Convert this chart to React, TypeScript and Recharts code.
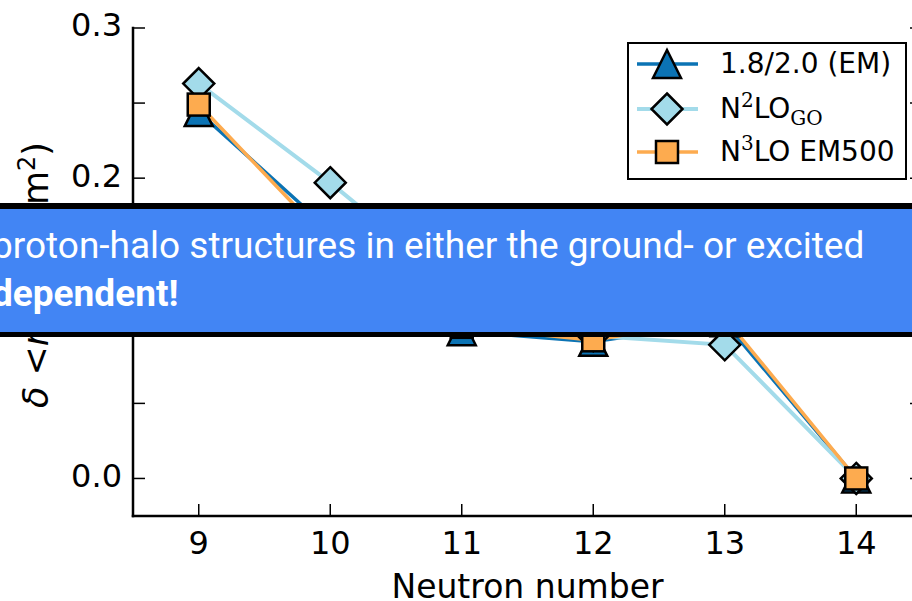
import React from 'react';
import { LineChart, Line, XAxis, YAxis, Legend } from 'recharts';

const neutronNumbers = [9, 10, 11, 12, 13, 14];
const em1820 = [0.244, 0.165, 0.098, 0.091, 0.104, 0.0];
const n2loGo = [0.263, 0.197, 0.125, 0.095, 0.089, 0.0];
const n3loEm500 = [0.249, 0.157, 0.101, 0.092, 0.107, 0.0];

const xTicks = [9, 10, 11, 12, 13, 14];
const yTicks = [0, 0.05, 0.1, 0.15, 0.2, 0.25, 0.3];
const yLabelTicks = [0, 0.1, 0.2, 0.3];

const bannerLine1 = 'proton-halo structures in either the ground- or excited';
const bannerLine2 = 'dependent!';

const rows = neutronNumbers.map((n, i) => ({ n, em: em1820[i], go: n2loGo[i], em500: n3loEm500[i] }));

type Shape = 'triangle' | 'diamond' | 'square';

const SERIES: { key: string; color: string; shape: Shape; width: number }[] = [
  { key: 'em', color: '#0b73b4', shape: 'triangle', width: 3.5 },
  { key: 'go', color: '#a3dbea', shape: 'diamond', width: 4 },
  { key: 'em500', color: '#fdab4f', shape: 'square', width: 3.5 },
];

const FONT = '"DejaVu Sans", sans-serif';
const SERIF = '"DejaVu Serif", serif';

const supStyle: React.CSSProperties = { fontFamily: SERIF, fontSize: 20, position: 'relative', top: -11 };
const subStyle: React.CSSProperties = { fontFamily: SERIF, fontSize: 20, position: 'relative', top: 7 };

const LEGEND_TEXT: Record<string, React.ReactNode> = {
  em: '1.8/2.0 (EM)',
  go: (
    <>
      N<span style={supStyle}>2</span>LO<span style={subStyle}>GO</span>
    </>
  ),
  em500: (
    <>
      N<span style={supStyle}>3</span>LO EM500
    </>
  ),
};

function Marker({ cx, cy, shape, fill }: { cx?: number; cy?: number; shape: Shape; fill: string }) {
  if (cx == null || cy == null) return null;
  const edge = { fill, stroke: '#000', strokeWidth: 2.5, strokeLinejoin: 'miter' as const };
  if (shape === 'triangle') {
    const s = 14;
    return <polygon points={`${cx},${cy - s} ${cx - s},${cy + s} ${cx + s},${cy + s}`} {...edge} />;
  }
  if (shape === 'diamond') {
    const s = 15.5;
    return <polygon points={`${cx},${cy - s} ${cx + s},${cy} ${cx},${cy + s} ${cx - s},${cy}`} {...edge} />;
  }
  const h = 11;
  return <rect x={cx - h} y={cy - h} width={2 * h} height={2 * h} {...edge} />;
}

function LegendBox() {
  return (
    <div
      style={{
        width: 280,
        height: 138,
        boxSizing: 'border-box',
        border: '2.5px solid #000',
        background: '#fff',
        position: 'relative',
      }}
    >
      {SERIES.map((s, i) => (
        <div
          key={s.key}
          style={{
            position: 'absolute',
            left: 0,
            top: [20, 65, 108][i] - 22,
            height: 44,
            display: 'flex',
            alignItems: 'center',
            whiteSpace: 'nowrap',
          }}
        >
          <svg width={91} height={44} style={{ display: 'block' }}>
            <line x1={8} x2={69} y1={22} y2={22} stroke={s.color} strokeWidth={s.width} />
            <Marker cx={38} cy={22} shape={s.shape} fill={s.color} />
          </svg>
          <span style={{ fontFamily: FONT, fontSize: 28, color: '#000', lineHeight: 1 }}>{LEGEND_TEXT[s.key]}</span>
        </div>
      ))}
    </div>
  );
}

// rotated y-axis title; in the rotated frame x runs from bottom (-85) to top (181)
function YTitle() {
  return (
    <text x={-85} y={275} transform="rotate(-90 48 275)" fontFamily={FONT} fontSize={35} fill="#000">
      <tspan fontStyle="italic">δ</tspan>
      <tspan> &lt;</tspan>
      <tspan fontStyle="italic">r</tspan>
      <tspan fontSize={24} dy={-13}>2</tspan>
      <tspan fontSize={24} dy={20}>ch</tspan>
      <tspan dy={-7}>&gt;</tspan>
      <tspan x={181} textAnchor="end">
        (fm
        <tspan fontSize={24} dy={-13}>2</tspan>
        <tspan dy={13}>)</tspan>
      </tspan>
    </text>
  );
}

const axisLine = { stroke: '#000', strokeWidth: 2.5, strokeLinecap: 'square' as const };
const tickLine = { stroke: '#000', strokeWidth: 1.5 };
const tickFont = { fill: '#000', fontSize: 32, fontFamily: FONT };

export default function App() {
  return (
    <div style={{ position: 'absolute', left: 0, top: 0, width: 912, height: 601, overflow: 'hidden', background: '#fff' }}>
      <LineChart width={930} height={601} data={rows} margin={{ top: 28, right: 0, bottom: 0, left: 0 }}>
        <XAxis
          xAxisId="b"
          dataKey="n"
          type="number"
          domain={[8.5, 14.5]}
          allowDataOverflow
          ticks={xTicks}
          interval={0}
          height={85}
          tickSize={-12}
          tickMargin={27}
          axisLine={axisLine}
          tickLine={tickLine}
          tick={tickFont}
          label={{ value: 'Neutron number', position: 'insideBottom', offset: 3, fill: '#000', fontSize: 33, fontFamily: FONT }}
        />
        <XAxis
          xAxisId="t"
          orientation="top"
          dataKey="n"
          type="number"
          domain={[8.5, 14.5]}
          allowDataOverflow
          ticks={xTicks}
          interval={0}
          height={0}
          tickSize={-12}
          axisLine={axisLine}
          tickLine={tickLine}
          tickFormatter={() => ''}
        />
        <YAxis
          yAxisId="l"
          type="number"
          domain={[-0.025, 0.3]}
          allowDataOverflow
          ticks={yTicks}
          interval={0}
          width={133}
          tickSize={-12}
          tickMargin={23}
          axisLine={axisLine}
          tickLine={tickLine}
          tick={{ ...tickFont, dy: -3 }}
          tickFormatter={(v: number) => (yLabelTicks.some((t) => Math.abs(t - v) < 1e-9) ? v.toFixed(1) : '')}
          label={{ content: () => <YTitle /> }}
        />
        <YAxis
          yAxisId="r"
          orientation="right"
          type="number"
          domain={[-0.025, 0.3]}
          allowDataOverflow
          ticks={yTicks}
          interval={0}
          width={8}
          tickSize={-12}
          axisLine={axisLine}
          tickLine={tickLine}
          tickFormatter={() => ''}
        />
        {SERIES.map((s) => (
          <Line
            key={s.key}
            xAxisId="b"
            yAxisId="l"
            dataKey={s.key}
            stroke={s.color}
            strokeWidth={s.width}
            isAnimationActive={false}
            activeDot={false}
            dot={(p: any) => <Marker key={`${s.key}-${p.index}`} cx={p.cx} cy={p.cy} shape={s.shape} fill={s.color} />}
          />
        ))}
        <Legend
          layout="vertical"
          align="center"
          verticalAlign="middle"
          content={() => <LegendBox />}
          wrapperStyle={{ position: 'absolute', left: 627, top: 42, width: 280, height: 138 }}
        />
      </LineChart>
      <div
        style={{
          position: 'absolute',
          left: 0,
          top: 203,
          width: 912,
          height: 134,
          boxSizing: 'border-box',
          borderTop: '6px solid #000',
          borderBottom: '5px solid #000',
          background: '#4285f4',
          overflow: 'hidden',
        }}
      >
        <div
          style={{
            position: 'absolute',
            left: -8,
            top: 13,
            fontFamily: 'Roboto, sans-serif',
            fontSize: 37,
            lineHeight: '48px',
            color: '#fff',
            whiteSpace: 'nowrap',
          }}
        >
          <div>{bannerLine1}</div>
          <div style={{ fontWeight: 700 }}>{bannerLine2}</div>
        </div>
      </div>
    </div>
  );
}
